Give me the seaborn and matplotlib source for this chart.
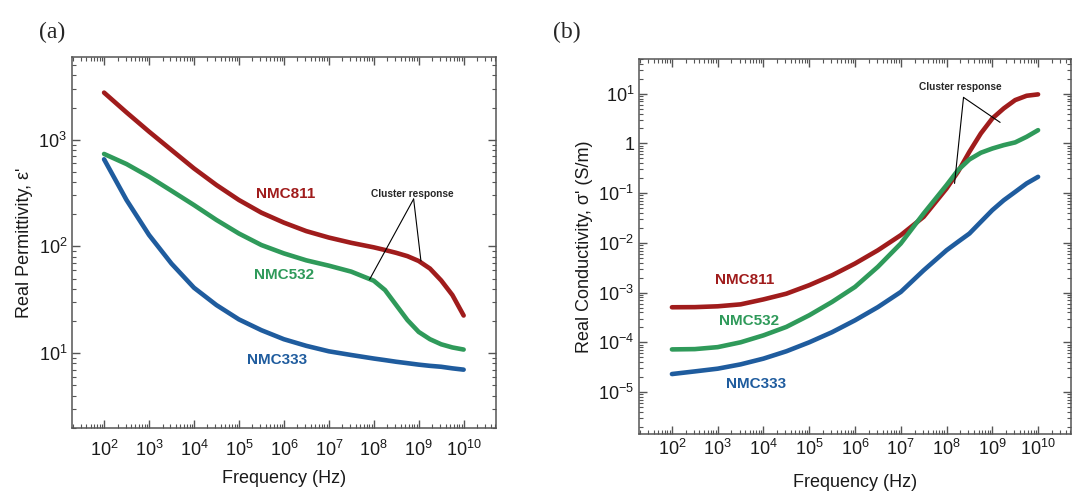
import numpy as np
import pandas as pd
import seaborn as sns
import matplotlib.pyplot as plt
from matplotlib.ticker import LogLocator, FuncFormatter, NullFormatter, FixedLocator

# values
freq_hz = [1e2, 3.16e2, 1e3, 3.16e3, 1e4, 3.16e4, 1e5, 3.16e5, 1e6, 3.16e6,
           1e7, 3.16e7, 1e8, 1.78e8, 3.16e8, 5.62e8, 1e9, 1.78e9, 3.16e9, 5.62e9, 1e10]
samples = ['NMC811', 'NMC532', 'NMC333']

perm_811 = [2760, 1800, 1190, 800, 538, 376, 272, 207, 167, 139, 121, 108, 98,
            92.5, 87, 81, 73, 62, 48, 35, 22.5]
perm_532 = [735, 591, 450, 332, 244, 177, 132, 103, 86, 74, 66, 58, 47.7,
            39, 28.2, 20.4, 15.8, 13.5, 12.1, 11.3, 10.8]
perm_333 = [655, 272, 128, 69, 41, 28.2, 20.7, 16.4, 13.5, 11.7, 10.4, 9.6, 8.9,
            8.6, 8.3, 8.05, 7.8, 7.6, 7.45, 7.2, 7.0]

cond_811 = [5.07e-4, 5.1e-4, 5.3e-4, 5.8e-4, 7.3e-4, 9.5e-4, 1.41e-3, 2.23e-3, 3.84e-3,
            7.1e-3, 0.0143, 0.0334, 0.124, 0.269, 0.68, 1.59, 3.18, 5.07, 7.45, 9.1, 9.7]
cond_532 = [7.2e-5, 7.3e-5, 8.0e-5, 1.0e-4, 1.38e-4, 2.04e-4, 3.5e-4, 6.5e-4, 1.3e-3,
            3.3e-3, 9.7e-3, 0.039, 0.145, 0.29, 0.476, 0.65, 0.79, 0.925, 1.05, 1.36, 1.85]
cond_333 = [2.3e-5, 2.6e-5, 2.95e-5, 3.6e-5, 4.7e-5, 6.6e-5, 1.0e-4, 1.6e-4, 2.77e-4,
            5.1e-4, 1.03e-3, 2.8e-3, 7.1e-3, 0.0105, 0.0154, 0.0265, 0.0455, 0.072,
            0.106, 0.157, 0.213]

x_ticks = [1e2, 1e3, 1e4, 1e5, 1e6, 1e7, 1e8, 1e9, 1e10]
perm_ticks = [1e1, 1e2, 1e3]
cond_ticks = [1e-5, 1e-4, 1e-3, 1e-2, 1e-1, 1, 1e1]

colors = {'NMC811': '#a01c1c', 'NMC532': '#2f9a5a', 'NMC333': '#1f5c9e'}


def long_df(series):
    frames = []
    for name, vals in zip(samples, series):
        frames.append(pd.DataFrame({'freq': freq_hz, 'value': vals, 'sample': name}))
    return pd.concat(frames, ignore_index=True)


perm = long_df([perm_811, perm_532, perm_333])
cond = long_df([cond_811, cond_532, cond_333])

sns.set_style('ticks')
plt.rcParams['font.family'] = ['Liberation Sans', 'DejaVu Sans']
plt.rcParams['mathtext.fontset'] = 'custom'
plt.rcParams['mathtext.rm'] = 'Liberation Sans'
plt.rcParams['mathtext.it'] = 'Liberation Sans:italic'
plt.rcParams['mathtext.bf'] = 'Liberation Sans:bold'
plt.rcParams['mathtext.default'] = 'regular'

fig = plt.figure(figsize=(10.75, 4.91), dpi=100)
ax1 = fig.add_axes([0.067, 0.128, 0.3944, 0.756])
ax2 = fig.add_axes([0.5947, 0.116, 0.4016, 0.764])


def pow_fmt(v, pos):
    e = int(round(np.log10(v)))
    if e == 0:
        return '1'
    return '$10^{%d}$' % e


for ax, df in [(ax1, perm), (ax2, cond)]:
    sns.lineplot(data=df, x='freq', y='value', hue='sample', palette=colors,
                 linewidth=3.3, legend=False, ax=ax, solid_capstyle='round')
    ax.set_xscale('log')
    ax.set_yscale('log')
    ax.set_xlim(10 ** 1.287, 10 ** 10.72)
    ax.xaxis.set_major_locator(FixedLocator(x_ticks))
    ax.xaxis.set_minor_locator(LogLocator(base=10, subs=np.arange(2, 10), numticks=100))
    ax.yaxis.set_minor_locator(LogLocator(base=10, subs=np.arange(2, 10), numticks=100))
    ax.xaxis.set_minor_formatter(NullFormatter())
    ax.yaxis.set_minor_formatter(NullFormatter())
    ax.xaxis.set_major_formatter(FuncFormatter(pow_fmt))
    ax.yaxis.set_major_formatter(FuncFormatter(pow_fmt))
    ax.tick_params(which='both', direction='in', top=True, right=True,
                   color='#555555', labelsize=13, labelcolor='#1a1a1a')
    ax.tick_params(which='major', length=6, width=1)
    ax.tick_params(which='minor', length=3, width=0.8)
    for s in ax.spines.values():
        s.set_color('#555555')
        s.set_linewidth(1.1)

ax1.tick_params(axis='x', which='major', pad=8.5)
ax1.set_xlabel('Frequency (Hz)', fontsize=13, color='#1a1a1a', labelpad=7)
ax2.set_xlabel('Frequency (Hz)', fontsize=13, color='#1a1a1a', labelpad=10.5)

ax1.set_ylim(10 ** 0.297, 10 ** 3.775)
ax1.yaxis.set_major_locator(FixedLocator(perm_ticks))
ax1.set_ylabel("Real Permittivity, ε'", fontsize=13, color='#1a1a1a')

ax2.set_ylim(10 ** -5.845, 10 ** 1.70)
ax2.yaxis.set_major_locator(FixedLocator(cond_ticks))
ax2.set_ylabel("Real Conductivity, σ' (S/m)", fontsize=13, color='#1a1a1a')

# curve labels
lab_kw = dict(fontsize=11, fontweight='bold', ha='center', va='center')
ax1.text(1.07e6, 307, 'NMC811', color=colors['NMC811'], **lab_kw)
ax1.text(1.03e6, 53.8, 'NMC532', color=colors['NMC532'], **lab_kw)
ax1.text(7.2e5, 8.6, 'NMC333', color=colors['NMC333'], **lab_kw)
ax2.text(3.8e3, 1.83e-3, 'NMC811', color=colors['NMC811'], **lab_kw)
ax2.text(4.9e3, 2.65e-4, 'NMC532', color=colors['NMC532'], **lab_kw)
ax2.text(7.0e3, 1.43e-5, 'NMC333', color=colors['NMC333'], **lab_kw)

# cluster response annotations
ann_kw = dict(fontsize=7.3, fontweight='bold', ha='center', va='center')
ax1.text(10 ** 8.85, 307, 'Cluster response', **ann_kw)
for x, y in [(10 ** 7.907, 49), (10 ** 9.05, 72.9)]:
    ax1.plot([10 ** 8.887, x], [278, y], color='black', lw=0.8)
ax2.text(10 ** 8.298, 13.4, 'Cluster response', **ann_kw)
for x, y in [(10 ** 8.175, 0.157), (10 ** 9.171, 2.65)]:
    ax2.plot([10 ** 8.371, x], [8.44, y], color='black', lw=0.8)

fig.text(52 / 1075, 1 - 32 / 491, '(a)', family='Liberation Serif', fontsize=17,
         ha='center', va='center')
fig.text(567 / 1075, 1 - 32 / 491, '(b)', family='Liberation Serif', fontsize=17,
         ha='center', va='center')

fig.savefig('out.png', dpi=100)
